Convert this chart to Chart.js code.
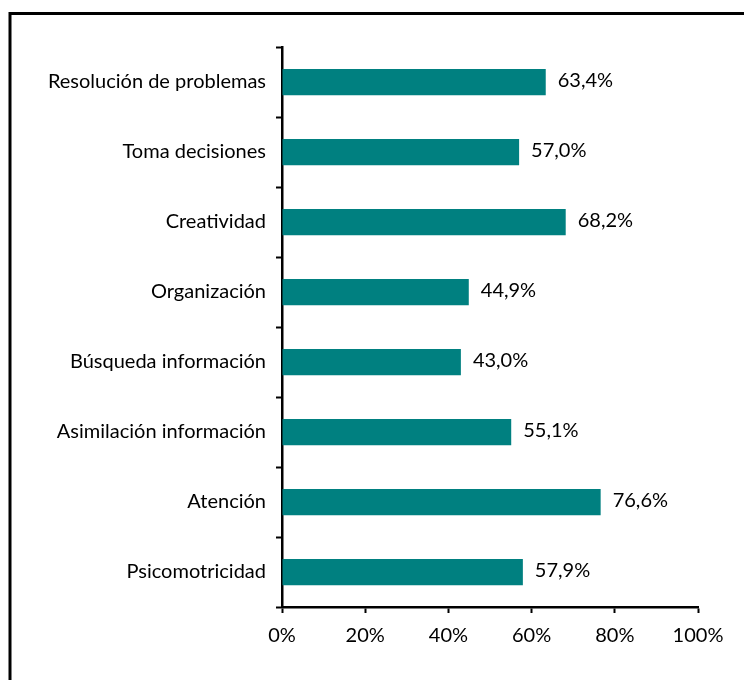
<!DOCTYPE html>
<html>
<head>
<meta charset="utf-8">
<script src="https://cdn.jsdelivr.net/npm/chart.js@4"></script>
<style>
  html, body { margin: 0; padding: 0; background: #ffffff; }
  canvas { display: block; }
</style>
</head>
<body>
<canvas id="chart" width="744" height="680"></canvas>
<script>
// Skill categories, top to bottom
const categories = [
  'Resolución de problemas',
  'Toma decisiones',
  'Creatividad',
  'Organización',
  'Búsqueda información',
  'Asimilación información',
  'Atención',
  'Psicomotricidad'
];

// Percentage for each category
const percentages = [63.4, 57.0, 68.2, 44.9, 43.0, 55.1, 76.6, 57.9];

// Horizontal axis range and step (percent)
const axisMin = 0;
const axisMax = 100;
const axisStep = 20;

const barColor = '#008080';
const textFont = { family: 'Lato', size: 20 };

const fmtPercent = v => v.toFixed(1).replace('.', ',') + '%';

// Outer frame drawn behind the chart
const framePlugin = {
  id: 'frame',
  beforeDraw(chart) {
    const ctx = chart.ctx;
    ctx.save();
    ctx.strokeStyle = '#000';
    ctx.lineWidth = 3;
    ctx.beginPath();
    ctx.moveTo(10, chart.height);
    ctx.lineTo(10, 13.5);
    ctx.lineTo(chart.width, 13.5);
    ctx.stroke();
    ctx.restore();
  }
};

// Value labels to the right of each bar
const valueLabels = {
  id: 'valueLabels',
  afterDatasetsDraw(chart) {
    const ctx = chart.ctx;
    const meta = chart.getDatasetMeta(0);
    ctx.save();
    ctx.fillStyle = '#000';
    ctx.font = `${textFont.size}px ${textFont.family}`;
    ctx.textAlign = 'left';
    ctx.textBaseline = 'middle';
    meta.data.forEach((bar, i) => {
      ctx.fillText(fmtPercent(chart.data.datasets[0].data[i]), bar.x + 12, bar.y - 1);
    });
    ctx.restore();
  }
};

new Chart(document.getElementById('chart'), {
  type: 'bar',
  data: {
    labels: categories,
    datasets: [{
      data: percentages,
      backgroundColor: barColor,
      borderWidth: 0,
      categoryPercentage: 1,
      barPercentage: 0.375
    }]
  },
  options: {
    indexAxis: 'y',
    responsive: false,
    animation: false,
    layout: { padding: { top: 47, right: 46, left: 0, bottom: 0 } },
    plugins: {
      legend: { display: false },
      tooltip: { enabled: false }
    },
    scales: {
      x: {
        min: axisMin,
        max: axisMax,
        border: { display: true, color: '#000', width: 2.5 },
        grid: {
          drawOnChartArea: false,
          drawTicks: true,
          tickLength: 6,
          tickWidth: 2,
          color: '#000'
        },
        ticks: {
          stepSize: axisStep,
          color: '#000',
          font: textFont,
          padding: 11,
          maxRotation: 0,
          callback: v => v + '%'
        },
        afterFit(scale) { scale.height = 73; }
      },
      y: {
        border: { display: true, color: '#000', width: 2.5 },
        grid: {
          drawOnChartArea: false,
          drawTicks: true,
          tickLength: 6,
          tickWidth: 2,
          color: '#000',
          offset: true
        },
        ticks: {
          color: '#000',
          font: textFont,
          padding: 10
        },
        afterFit(scale) { scale.width = 282; }
      }
    }
  },
  plugins: [framePlugin, valueLabels]
});
</script>
</body>
</html>
